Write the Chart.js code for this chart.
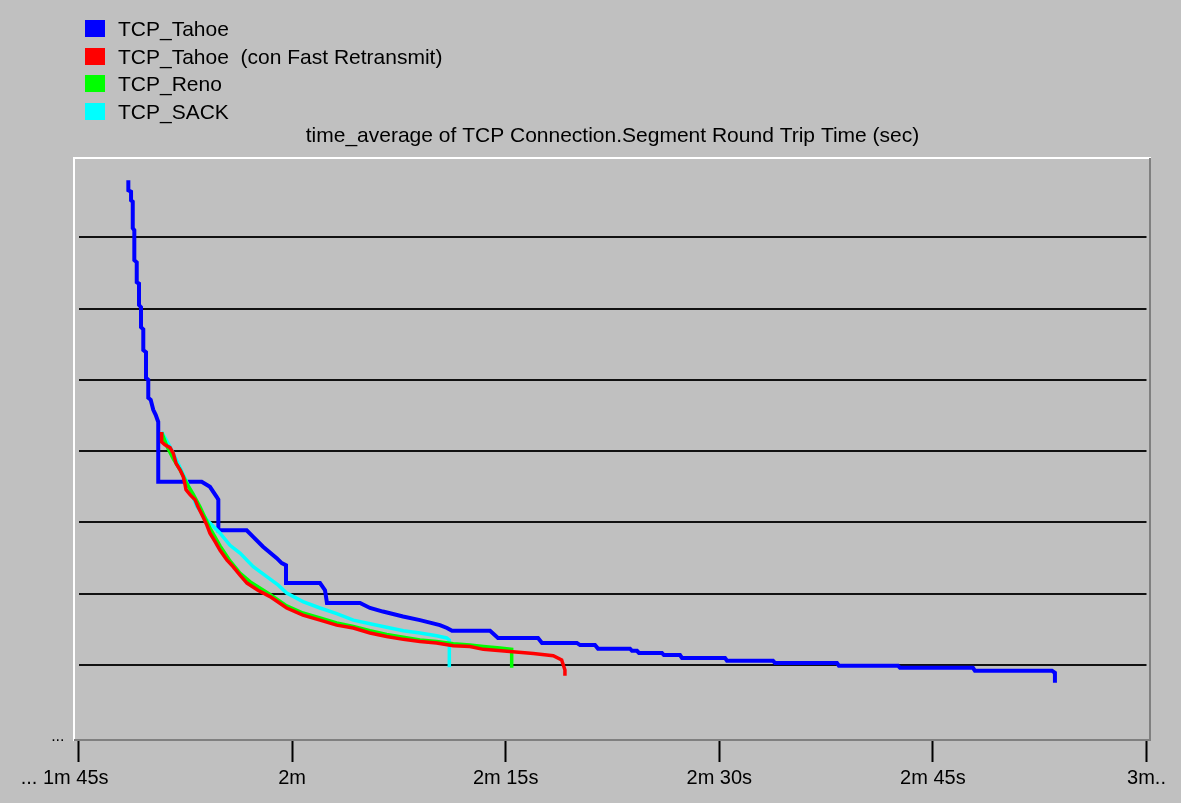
<!DOCTYPE html>
<html>
<head>
<meta charset="utf-8">
<script src="https://cdn.jsdelivr.net/npm/chart.js@4.4.1/dist/chart.umd.min.js"></script>
<style>
  html, body { margin: 0; padding: 0; background: #c0c0c0; }
  #wrap { position: relative; width: 1181px; height: 803px; }
  #legenda { position: absolute; left: 85px; top: 15px; font: 21px "Liberation Sans", Arial, sans-serif; color: #000; }
  #legenda div { height: 27.6px; line-height: 27.6px; white-space: pre; position: relative; padding-left: 33px; }
  #legenda span { position: absolute; left: 0; top: 5px; width: 20px; height: 17px; }
</style>
</head>
<body>
<div id="wrap">
  <canvas id="grafico" width="1181" height="803"></canvas>
  <div id="legenda"></div>
</div>
<script>
// serie: tempo (s) e valore medio RTT (unita' della griglia)
const seriesNames = ['TCP_Tahoe', 'TCP_Tahoe  (con Fast Retransmit)', 'TCP_Reno', 'TCP_SACK'];
const seriesColors = ['#0000ff', '#ff0000', '#00ff00', '#00ffff'];

const tahoeT = [108.50,108.50,108.69,108.69,108.81,108.81,108.92,108.92,109.09,109.09,109.25,109.25,109.39,109.39,109.55,109.55,109.74,109.74,109.90,109.90,110.07,110.25,110.42,110.60,110.60,113.65,114.23,114.70,114.82,114.82,116.81,117.25,117.96,118.92,119.27,119.57,119.57,121.96,122.31,122.45,124.77,125.47,126.38,127.79,128.98,130.38,130.88,131.23,133.90,134.46,137.27,137.55,140.00,140.22,141.27,141.48,143.73,143.87,144.22,144.36,145.97,146.11,147.24,147.38,150.40,150.54,153.77,153.91,158.26,158.40,162.55,162.69,167.81,167.95,173.36,173.57,173.57];
const tahoeV = [7.80,7.66,7.64,7.52,7.50,7.13,7.10,6.68,6.65,6.37,6.35,6.05,6.02,5.74,5.71,5.42,5.39,5.03,5.00,4.75,4.72,4.58,4.51,4.41,3.57,3.57,3.50,3.36,3.32,2.89,2.89,2.80,2.66,2.50,2.43,2.40,2.15,2.15,2.05,1.87,1.87,1.80,1.75,1.68,1.63,1.56,1.52,1.48,1.48,1.38,1.38,1.31,1.31,1.28,1.28,1.23,1.23,1.20,1.20,1.17,1.17,1.14,1.14,1.10,1.10,1.06,1.06,1.03,1.03,0.99,0.99,0.96,0.96,0.92,0.92,0.89,0.75];

const fastT = [110.84,110.84,111.07,111.43,111.66,111.85,112.13,112.36,112.48,112.55,112.83,113.18,113.39,113.74,114.02,114.23,114.59,114.94,115.43,115.85,116.34,116.83,117.60,118.45,119.62,120.76,121.96,123.13,124.30,125.47,126.64,127.81,128.98,130.15,131.32,132.49,133.43,135.30,136.94,138.34,138.93,139.16,139.16];
const fastV = [4.27,4.13,4.09,4.05,3.97,3.83,3.74,3.64,3.53,3.46,3.39,3.32,3.22,3.08,2.96,2.85,2.73,2.61,2.47,2.38,2.26,2.15,2.05,1.96,1.80,1.70,1.63,1.56,1.52,1.45,1.40,1.36,1.33,1.31,1.27,1.26,1.22,1.19,1.16,1.13,1.07,0.93,0.85];

const renoT = [110.84,111.21,111.64,112.13,112.62,113.04,113.53,114.23,114.94,115.64,116.34,117.04,118.45,119.62,120.76,121.96,123.13,124.30,125.47,126.64,127.81,128.98,130.15,131.32,132.49,133.43,134.60,135.42,135.42];
const renoV = [4.26,4.07,3.90,3.74,3.54,3.40,3.22,2.92,2.67,2.46,2.29,2.17,1.99,1.83,1.73,1.66,1.59,1.54,1.48,1.43,1.39,1.35,1.33,1.30,1.28,1.26,1.24,1.22,0.96];

const sackT = [110.84,111.43,111.99,112.48,112.83,113.30,114.00,114.94,115.64,116.34,117.27,118.22,119.03,119.62,120.76,121.96,123.13,124.30,125.47,126.64,127.81,128.98,130.15,130.85,131.04,131.04];
const sackV = [4.27,4.06,3.83,3.62,3.46,3.23,3.04,2.85,2.68,2.57,2.38,2.24,2.12,2.01,1.89,1.80,1.72,1.63,1.58,1.53,1.48,1.45,1.41,1.38,1.35,0.97];

// assi
const xTicks = [105, 120, 135, 150, 165, 180];
const xTickLabels = ['... 1m 45s     ', '2m', '2m 15s', '2m 30s', '2m 45s', '3m..'];
const gridVals = [1, 2, 3, 4, 5, 6, 7];

const FONT = '"Liberation Sans", Arial, sans-serif';

function punti(t, v){
    return t.map((x, i) => ({ x: x, y: v[i] }));
}

// cornice incassata stile finestra
const cornice = {
    id: 'cornice',
    beforeDraw(chart){
        const c = chart.ctx;
        c.save();
        c.lineWidth = 2;
        c.strokeStyle = '#ffffff';
        c.beginPath();
        c.moveTo(74, 741); c.lineTo(74, 158); c.lineTo(1151, 158);
        c.stroke();
        c.strokeStyle = '#808080';
        c.beginPath();
        c.moveTo(1150, 158); c.lineTo(1150, 740); c.lineTo(74, 740);
        c.stroke();
        c.restore();
    }
};

function creaLegenda(){
    const box = document.getElementById('legenda');
    seriesNames.forEach((n, i) => {
        const riga = document.createElement('div');
        const q = document.createElement('span');
        q.style.background = seriesColors[i];
        riga.appendChild(q);
        riga.appendChild(document.createTextNode(n));
        box.appendChild(riga);
    });
}

function start(){
    creaLegenda();
    const ctx = document.getElementById('grafico').getContext('2d');
    const serie = [punti(tahoeT, tahoeV), punti(fastT, fastV), punti(renoT, renoV), punti(sackT, sackV)];
    const ordine = [3, 0, 1, 2];
    const spessori = [4, 3.5, 3.5, 3.5];

    new Chart(ctx, {
        type: 'line',
        data: {
            datasets: serie.map((d, i) => ({
                label: seriesNames[i],
                data: d,
                borderColor: seriesColors[i],
                backgroundColor: seriesColors[i],
                borderWidth: spessori[i],
                pointRadius: 0,
                tension: 0,
                fill: false,
                order: ordine[i]
            }))
        },
        options: {
            responsive: false,
            animation: false,
            layout: { padding: { left: 48.5, right: 34.5, top: 123.4, bottom: 0 } },
            plugins: {
                legend: { display: false },
                tooltip: { enabled: false },
                title: {
                    display: true,
                    fullSize: false,
                    text: 'time_average of TCP Connection.Segment Round Trip Time (sec)',
                    color: '#000',
                    font: { family: FONT, size: 21, weight: 'normal', lineHeight: 1.2 },
                    padding: { top: 0, bottom: 9 }
                }
            },
            scales: {
                x: {
                    type: 'linear',
                    min: 105,
                    max: 180,
                    afterBuildTicks: s => { s.ticks = xTicks.map(v => ({ value: v })); },
                    afterFit: s => { s.height = 62; },
                    border: { display: false },
                    grid: { drawOnChartArea: false, color: '#000', tickColor: '#000', tickWidth: 2, tickLength: 21 },
                    ticks: {
                        autoSkip: false,
                        maxRotation: 0,
                        padding: 4,
                        color: '#000',
                        font: { family: FONT, size: 20 },
                        callback: (v) => xTickLabels[xTicks.indexOf(v)]
                    }
                },
                y: {
                    min: -0.066,
                    max: 8.119,
                    afterBuildTicks: s => { s.ticks = [0].concat(gridVals).map(v => ({ value: v })); },
                    afterFit: s => { s.width = 30; },
                    border: { display: false },
                    grid: {
                        drawTicks: false,
                        lineWidth: 2,
                        color: c => (c.tick && c.tick.value === 0) ? 'rgba(0,0,0,0)' : '#111'
                    },
                    ticks: {
                        padding: 14,
                        color: '#000',
                        font: { family: FONT, size: 16 },
                        callback: (v) => v === 0 ? '...' : ''
                    }
                }
            }
        },
        plugins: [cornice]
    });
}

if(document.readyState === 'loading') document.addEventListener('DOMContentLoaded', start);
else start();
</script>
</body>
</html>
